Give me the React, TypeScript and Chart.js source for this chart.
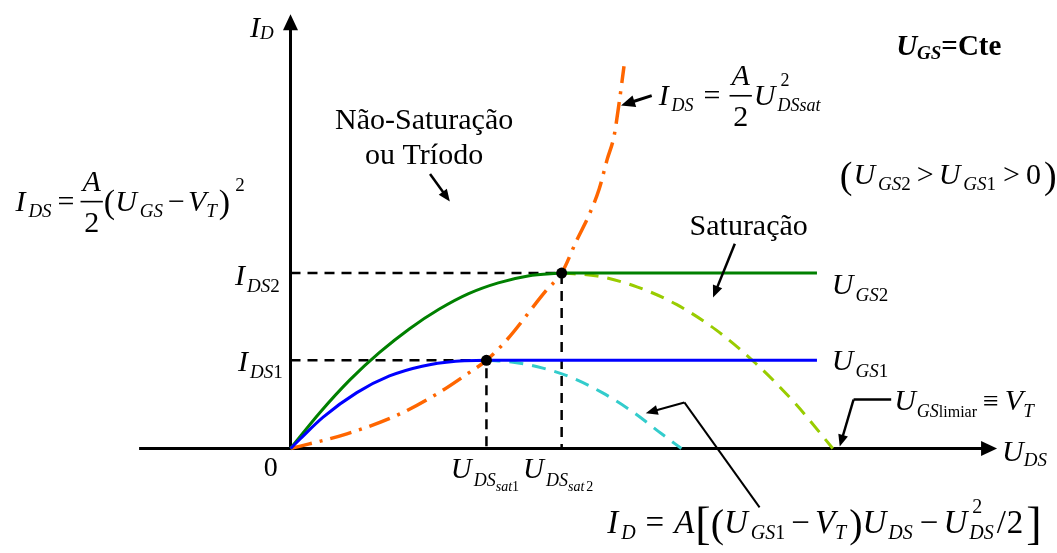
import React, { useEffect, useRef } from 'react';
import { Chart, registerables } from 'chart.js';
Chart.register(...registerables);

// ---- data (U_DS, I_D in arbitrary units) ----
const U_SAT = [1.98, 2.74]; // U_DSsat1, U_DSsat2
const I_SAT = [0.9, 1.79]; // I_DS1, I_DS2
const U_FLAT_END = 5.32;
const U1_TRIODE = [0, 0.1, 0.33, 0.67, 1.0, 1.33, 1.67, 1.98];
const I1_TRIODE = [0, 0.1, 0.32, 0.57, 0.74, 0.84, 0.89, 0.9];
const U2_TRIODE = [0, 0.3, 0.6, 0.9, 1.2, 1.5, 1.8, 2.1, 2.4, 2.74];
const I2_TRIODE = [0, 0.37, 0.7, 0.98, 1.22, 1.42, 1.58, 1.69, 1.76, 1.79];
const U1_FALL = [1.98, 2.25, 2.55, 2.85, 3.15, 3.45, 3.75, 3.95];
const I1_FALL = [0.9, 0.88, 0.82, 0.72, 0.57, 0.38, 0.15, 0];
const U2_FALL = [2.74, 3.1, 3.5, 3.9, 4.3, 4.7, 5.1, 5.48];
const I2_FALL = [1.79, 1.76, 1.65, 1.47, 1.21, 0.87, 0.46, 0];
const U_LOCUS = [0, 0.57, 1.1, 1.5, 1.77, 1.98, 2.17, 2.59, 2.74, 2.89, 3.02, 3.12, 3.2, 3.27, 3.32, 3.37];
const I_LOCUS = [0, 0.15, 0.35, 0.57, 0.75, 0.9, 1.09, 1.62, 1.79, 2.12, 2.39, 2.65, 2.95, 3.19, 3.52, 3.9];
const X_RANGE = [-2.88, 7.69];
const Y_RANGE = [-1.01, 4.52];

const xy = (xs: number[], ys: number[]) => xs.map((x, i) => ({ x, y: ys[i] }));

const FF = '"Liberation Serif", "Times New Roman", serif';
const fnt = (s: number, it = false, b = false) => `${it ? 'italic ' : ''}${b ? 'bold ' : ''}${s}px ${FF}`;

type R = {
  t?: string; s?: number; it?: boolean; b?: boolean; dy?: number; g?: number;
  frac?: [string, string]; sup?: string; sub?: string;
};

function rich(ctx: CanvasRenderingContext2D, x: number, y: number, runs: R[]) {
  let cx = x;
  for (const r of runs) {
    if (r.g) { cx += r.g; continue; }
    const s = r.s || 30;
    if (r.frac) {
      ctx.font = fnt(s, true);
      const wn = ctx.measureText(r.frac[0]).width;
      ctx.font = fnt(s);
      const wd = ctx.measureText(r.frac[1]).width;
      const w = Math.max(wn, wd) + 6;
      ctx.font = fnt(s, true);
      ctx.fillText(r.frac[0], cx + (w - wn) / 2, y - 20);
      ctx.font = fnt(s);
      ctx.fillText(r.frac[1], cx + (w - wd) / 2, y + 21);
      ctx.fillRect(cx + 1, y - 10.5, w - 2, 1.6);
      cx += w;
      continue;
    }
    if (r.sup !== undefined || r.sub !== undefined) {
      ctx.font = fnt(s);
      const w1 = r.sup ? ctx.measureText(r.sup).width : 0;
      if (r.sup) ctx.fillText(r.sup, cx + 3, y - (r.dy || 19));
      ctx.font = fnt(s, true);
      const w2 = r.sub ? ctx.measureText(r.sub).width : 0;
      if (r.sub) ctx.fillText(r.sub, cx, y + 6);
      cx += Math.max(w1 + 3, w2);
      continue;
    }
    ctx.font = fnt(s, r.it, r.b);
    ctx.fillText(r.t || '', cx, y + (r.dy || 0));
    cx += ctx.measureText(r.t || '').width;
  }
  return cx;
}

function arrow(ctx: CanvasRenderingContext2D, x1: number, y1: number, x2: number, y2: number, hl: number, hw: number, lw: number) {
  const a = Math.atan2(y2 - y1, x2 - x1);
  const bx = x2 - hl * Math.cos(a);
  const by = y2 - hl * Math.sin(a);
  ctx.lineWidth = lw;
  ctx.beginPath();
  ctx.moveTo(x1, y1);
  ctx.lineTo(bx + Math.cos(a), by + Math.sin(a));
  ctx.stroke();
  ctx.beginPath();
  ctx.moveTo(x2, y2);
  ctx.lineTo(bx + hw * Math.sin(a), by - hw * Math.cos(a));
  ctx.lineTo(bx - hw * Math.sin(a), by + hw * Math.cos(a));
  ctx.closePath();
  ctx.fill();
}

const annot = {
  id: 'annot',
  beforeDatasetsDraw(chart: any) {
    const ctx: CanvasRenderingContext2D = chart.ctx;
    const X = (u: number) => chart.scales.x.getPixelForValue(u);
    const Y = (u: number) => chart.scales.y.getPixelForValue(u);
    ctx.save();
    ctx.strokeStyle = '#000';
    ctx.fillStyle = '#000';
    ctx.lineCap = 'butt';
    arrow(ctx, X(-1.53), Y(0), X(7.14), Y(0), 16, 7.5, 3);
    arrow(ctx, X(0), Y(0) + 1.5, X(0), Y(4.43), 16, 7.5, 3);
    ctx.restore();
  },
  afterDraw(chart: any) {
    const ctx: CanvasRenderingContext2D = chart.ctx;
    const X = (u: number) => chart.scales.x.getPixelForValue(u);
    const Y = (u: number) => chart.scales.y.getPixelForValue(u);
    ctx.save();
    ctx.fillStyle = '#000';
    ctx.strokeStyle = '#000';
    ctx.textBaseline = 'alphabetic';
    ctx.textAlign = 'left';

    // axis labels
    rich(ctx, X(-0.41), Y(4.2), [{ t: 'I', it: true, s: 30 }, { t: 'D', it: true, s: 19, dy: 2 }]);
    rich(ctx, X(7.19), Y(-0.13), [{ t: 'U', it: true, s: 30 }, { t: 'DS', it: true, s: 19, dy: 5 }]);
    ctx.font = fnt(28);
    ctx.textAlign = 'center';
    ctx.fillText('0', X(-0.2), Y(-0.28));
    ctx.textAlign = 'left';

    // U_GS = Cte
    rich(ctx, X(6.12), Y(4.02), [
      { t: 'U', it: true, b: true, s: 29 }, { t: 'GS', it: true, b: true, s: 19, dy: 4 }, { t: '=Cte', b: true, s: 29 },
    ]);

    // top formula
    rich(ctx, X(3.72), Y(3.5), [
      { t: 'I', it: true }, { g: 3 }, { t: 'DS', it: true, s: 18, dy: 6 }, { g: 10 }, { t: '=' }, { g: 8 },
      { frac: ['A', '2'] }, { g: 1 }, { t: 'U', it: true }, { g: 2 }, { sup: '2', sub: 'DSsat', s: 18 },
    ]);
    arrow(ctx, X(3.65), Y(3.6), X(3.34), Y(3.5), 14, 6, 3);

    // left formula
    rich(ctx, X(-2.78), Y(2.42), [
      { t: 'I', it: true }, { g: 3 }, { t: 'DS', it: true, s: 19, dy: 6 }, { g: 6 }, { t: '=' }, { g: 5 },
      { frac: ['A', '2'] }, { t: '(', s: 34, dy: 2 }, { t: 'U', it: true }, { g: 3 }, { t: 'GS', it: true, s: 19, dy: 6 },
      { g: 5 }, { t: '−' }, { g: 3 }, { t: 'V', it: true }, { t: 'T', it: true, s: 19, dy: 6 }, { g: 2 },
      { t: ')', s: 34, dy: 2 }, { g: 5 }, { t: '2', s: 19, dy: -20 },
    ]);

    // region labels
    ctx.font = fnt(30);
    ctx.textAlign = 'center';
    ctx.fillText('Não-Saturação', X(1.35), Y(3.26));
    ctx.fillText('ou Tríodo', X(1.35), Y(2.9));
    ctx.fillText('Saturação', X(4.63), Y(2.18));
    ctx.textAlign = 'left';
    arrow(ctx, X(1.41), Y(2.8), X(1.61), Y(2.52), 12, 5, 2.5);
    arrow(ctx, X(4.49), Y(2.09), X(4.27), Y(1.54), 12, 5, 2.5);

    // (U_GS2 > U_GS1 > 0)
    rich(ctx, X(5.55), Y(2.7), [
      { t: '(', s: 38, dy: 4 }, { g: 1 }, { t: 'U', it: true }, { g: 3 }, { t: 'GS', it: true, s: 19, dy: 6 }, { t: '2', s: 19, dy: 6 },
      { g: 6 }, { t: '>' }, { g: 5 }, { t: 'U', it: true }, { g: 3 }, { t: 'GS', it: true, s: 19, dy: 6 }, { t: '1', s: 19, dy: 6 },
      { g: 7 }, { t: '>' }, { g: 6 }, { t: '0' }, { g: 3 }, { t: ')', s: 38, dy: 4 },
    ]);

    // curve labels
    rich(ctx, X(5.47), Y(1.58), [{ t: 'U', it: true }, { g: 2 }, { t: 'GS', it: true, s: 19, dy: 7 }, { t: '2', s: 19, dy: 7 }]);
    rich(ctx, X(5.47), Y(0.8), [{ t: 'U', it: true }, { g: 2 }, { t: 'GS', it: true, s: 19, dy: 7 }, { t: '1', s: 19, dy: 7 }]);
    rich(ctx, X(-0.56), Y(1.67), [{ t: 'I', it: true }, { g: 2 }, { t: 'DS', it: true, s: 19, dy: 7 }, { t: '2', s: 19, dy: 7 }]);
    rich(ctx, X(-0.53), Y(0.79), [{ t: 'I', it: true }, { g: 2 }, { t: 'DS', it: true, s: 19, dy: 7 }, { t: '1', s: 19, dy: 7 }]);

    // U_DSsat labels
    rich(ctx, X(1.62), Y(-0.3), [
      { t: 'U', it: true, s: 29 }, { g: 2 }, { t: 'DS', it: true, s: 18, dy: 8 }, { t: 'sat', it: true, s: 14, dy: 13 }, { t: '1', s: 14, dy: 13 },
    ]);
    rich(ctx, X(2.35), Y(-0.3), [
      { t: 'U', it: true, s: 29 }, { g: 2 }, { t: 'DS', it: true, s: 18, dy: 8 }, { t: 'sat', it: true, s: 14, dy: 13 }, { g: 2 }, { t: '2', s: 14, dy: 13 },
    ]);

    // U_GSlimiar = V_T
    ctx.lineWidth = 2.5;
    ctx.beginPath();
    ctx.moveTo(X(6.07), Y(0.5));
    ctx.lineTo(X(5.69), Y(0.5));
    ctx.stroke();
    arrow(ctx, X(5.69), Y(0.5), X(5.55), Y(0.02), 12, 5, 2.5);
    rich(ctx, X(6.1), Y(0.39), [
      { t: 'U', it: true }, { g: 1 }, { t: 'GS', it: true, s: 18, dy: 7 }, { t: 'limiar', s: 16, dy: 7 }, { g: 6 },
      { t: '≡', s: 28 }, { g: 6 }, { t: 'V', it: true }, { t: 'T', it: true, s: 19, dy: 7 },
    ]);

    // bottom formula
    rich(ctx, X(3.2), Y(-0.86), [
      { t: 'I', it: true, s: 33 }, { g: 3 }, { t: 'D', it: true, s: 20, dy: 6 }, { g: 10 }, { t: '=', s: 33 }, { g: 10 }, { t: 'A', it: true, s: 33 },
      { g: 1 }, { t: '[', s: 46, dy: 6 }, { t: '(', s: 40, dy: 4 }, { t: 'U', it: true, s: 33 }, { g: 3 }, { t: 'GS', it: true, s: 20, dy: 6 },
      { t: '1', s: 20, dy: 6 }, { g: 6 }, { t: '−', s: 33 }, { g: 5 }, { t: 'V', it: true, s: 33 }, { t: 'T', it: true, s: 20, dy: 6 },
      { g: 3 }, { t: ')', s: 40, dy: 4 }, { t: 'U', it: true, s: 33 }, { g: 2 }, { t: 'DS', it: true, s: 20, dy: 6 }, { g: 7 },
      { t: '−', s: 33 }, { g: 5 }, { t: 'U', it: true, s: 33 }, { g: 2 }, { sup: '2', sub: 'DS', s: 20, dy: 20 }, { g: 3 }, { t: '/', s: 33 },
      { g: 1 }, { t: '2', s: 33 }, { g: 3 }, { t: ']', s: 46, dy: 6 },
    ]);
    ctx.lineWidth = 2;
    ctx.beginPath();
    ctx.moveTo(X(4.74), Y(-0.6));
    ctx.lineTo(X(3.98), Y(0.47));
    ctx.stroke();
    arrow(ctx, X(3.98), Y(0.47), X(3.59), Y(0.36), 12, 5, 2);

    ctx.restore();
  },
};

export default function App() {
  const ref = useRef<HTMLCanvasElement>(null);
  useEffect(() => {
    if (!ref.current) return;
    const line = (data: any[], color: string, extra: any = {}) => ({
      data, showLine: true, borderColor: color, backgroundColor: color, borderWidth: 3, pointRadius: 0, fill: false, ...extra,
    });
    const chart = new Chart(ref.current, {
      type: 'scatter',
      data: {
        datasets: [
          { data: xy(U_SAT, I_SAT), showLine: false, pointRadius: 5.5, pointBackgroundColor: '#000', pointBorderWidth: 0, pointBorderColor: '#000' },
          line([{ x: U_SAT[0], y: I_SAT[0] }, { x: U_FLAT_END, y: I_SAT[0] }], '#0000ff'),
          line([{ x: U_SAT[1], y: I_SAT[1] }, { x: U_FLAT_END, y: I_SAT[1] }], '#008000'),
          line(xy(U1_TRIODE, I1_TRIODE), '#0000ff', { cubicInterpolationMode: 'monotone' }),
          line(xy(U2_TRIODE, I2_TRIODE), '#008000', { cubicInterpolationMode: 'monotone' }),
          line(xy(U_LOCUS, I_LOCUS), '#ff6600', { cubicInterpolationMode: 'monotone', borderDash: [22, 8, 3, 8], borderWidth: 3.5 }),
          line(xy(U1_FALL, I1_FALL), '#33cccc', { cubicInterpolationMode: 'monotone', borderDash: [14, 9] }),
          line(xy(U2_FALL, I2_FALL), '#99cc00', { cubicInterpolationMode: 'monotone', borderDash: [14, 9] }),
          line([{ x: 0, y: I_SAT[0] }, { x: U_SAT[0], y: I_SAT[0] }, { x: U_SAT[0], y: 0 }], '#000', { borderDash: [10, 7], borderWidth: 2.5 }),
          line([{ x: 0, y: I_SAT[1] }, { x: U_SAT[1], y: I_SAT[1] }, { x: U_SAT[1], y: 0 }], '#000', { borderDash: [10, 7], borderWidth: 2.5 }),
        ],
      },
      options: {
        animation: false,
        responsive: false,
        devicePixelRatio: 1,
        layout: { padding: 0 },
        events: [],
        plugins: { legend: { display: false }, tooltip: { enabled: false } },
        scales: {
          x: { type: 'linear', min: X_RANGE[0], max: X_RANGE[1], display: false },
          y: { type: 'linear', min: Y_RANGE[0], max: Y_RANGE[1], display: false },
        },
      },
      plugins: [annot],
    } as any);
    return () => chart.destroy();
  }, []);
  return (
    <div style={{ position: 'fixed', left: 0, top: 0, width: 1057, height: 553, background: '#fff' }}>
      <canvas ref={ref} width={1057} height={553} style={{ width: 1057, height: 553, display: 'block' }} />
    </div>
  );
}
